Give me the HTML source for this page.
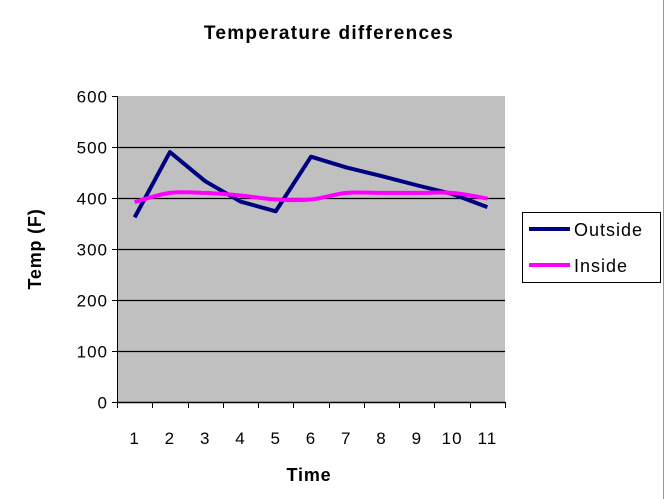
<!DOCTYPE html>
<html><head><meta charset="utf-8"><style>
body{margin:0;background:#fff;}
svg{display:block;font-family:"Liberation Sans",Arial,sans-serif;}
</style></head><body>
<svg width="665" height="499" viewBox="0 0 665 499">
<rect x="0" y="0" width="665" height="499" fill="#fff"/>
<line x1="663.5" y1="0" x2="663.5" y2="499" stroke="#999" stroke-width="1"/>
<text x="329" y="39" text-anchor="middle" font-size="19" font-weight="bold" letter-spacing="1.3">Temperature differences</text>
<rect x="117" y="96" width="388" height="306" fill="#c0c0c0"/>
<g id="grid"></g>
<g id="axes"></g>
<g id="series"></g>
<text x="0" y="0" transform="translate(41,249) rotate(-90)" text-anchor="middle" font-size="18" font-weight="bold" letter-spacing="0.8">Temp (F)</text>
<text x="309" y="481" text-anchor="middle" font-size="18" font-weight="bold" letter-spacing="0.8">Time</text>
<g>
<rect x="522.5" y="212.5" width="138" height="70" fill="#fff" stroke="#000" stroke-width="1"/>
<line x1="529" y1="229" x2="570" y2="229" stroke="#000080" stroke-width="4"/>
<text x="574" y="236" font-size="18" letter-spacing="1">Outside</text>
<line x1="529" y1="265" x2="570" y2="265" stroke="#ff00ff" stroke-width="4"/>
<text x="574" y="272" font-size="18" letter-spacing="1">Inside</text>
</g>
</svg>
<script>
const categories=["1","2","3","4","5","6","7","8","9","10","11"];
const outsideValues=[362,490,433,393,374,481,460,443,425,408,382];
const insideValues=[392,410,410,405,397,397,410,410,410,410,399];
const yTicks=[0,100,200,300,400,500,600];
const NS="http://www.w3.org/2000/svg";
const L=117,R=505,T=96,B=402,yMax=600;
const bw=(R-L)/categories.length;
function xPos(i){return L+bw*(i+0.5);}
function yPos(v){return B-(v/yMax)*(B-T);}
function mk(tag,attrs,parent){const e=document.createElementNS(NS,tag);for(const k in attrs)e.setAttribute(k,attrs[k]);parent.appendChild(e);return e;}
const grid=document.getElementById('grid'),axes=document.getElementById('axes'),series=document.getElementById('series');
yTicks.forEach(v=>{
  const y=Math.round(yPos(v))+0.5;
  if(v>0&&v<yMax){const g=mk('line',{x1:L,x2:R,y1:y,y2:y,stroke:'#000','stroke-width':1.3},grid);
  
  }
  const t=mk('line',{x1:L-5,x2:L,y1:y,y2:y,stroke:'#000'},axes);
  
  
  const tx=mk('text',{x:L-9,y:y+6,'text-anchor':'end','font-size':17,'letter-spacing':1},axes);
  tx.textContent=v;
  
  
});
const ya=mk('line',{x1:L+0.5,x2:L+0.5,y1:T,y2:B,stroke:'#000'},axes);


const xa=mk('line',{x1:L,x2:R,y1:B+0.5,y2:B+0.5,stroke:'#000','stroke-width':1.5},axes);


for(let i=0;i<=categories.length;i++){
  const x=Math.round(L+bw*i)+0.5;
  const t=mk('line',{x1:x,x2:x,y1:B,y2:B+6,stroke:'#000'},axes);
  
  
}
categories.forEach((c,i)=>{
  const tx=mk('text',{x:xPos(i),y:444,'text-anchor':'middle','font-size':17,'letter-spacing':1},axes);
  tx.textContent=c;
  
  
});
const op=outsideValues.map((v,i)=>xPos(i)+','+yPos(v)).join(' ');
const o=mk('polyline',{points:op,fill:'none',stroke:'#000080','stroke-width':4,'stroke-linejoin':'round'},series);


const pts=insideValues.map((v,i)=>[xPos(i),yPos(v)]);
let d='M'+pts[0][0]+','+pts[0][1];
for(let i=0;i<pts.length-1;i++){
  const p0=pts[Math.max(i-1,0)],p1=pts[i],p2=pts[i+1],p3=pts[Math.min(i+2,pts.length-1)];
  const c1=[p1[0]+(p2[0]-p0[0])/6,p1[1]+(p2[1]-p0[1])/6];
  const c2=[p2[0]-(p3[0]-p1[0])/6,p2[1]-(p3[1]-p1[1])/6];
  d+=' C'+c1+' '+c2+' '+p2;
}
const ins=mk('path',{d:d,fill:'none',stroke:'#ff00ff','stroke-width':4},series);


</script>
</body></html>
